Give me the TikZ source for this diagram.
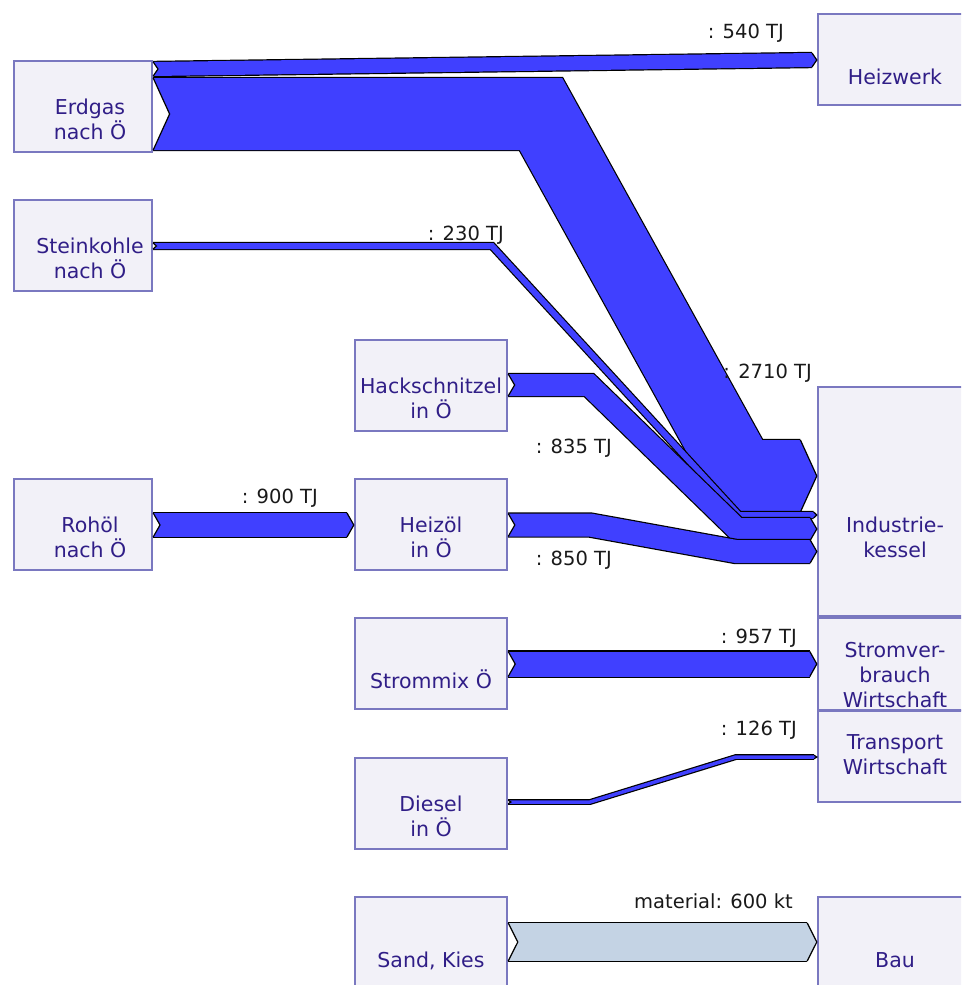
\documentclass[tikz,border=0pt]{standalone}
\usepackage{fontspec}
\setmainfont{DejaVu Sans}
\usetikzlibrary{calc}
\definecolor{boxfill}{RGB}{242,241,248}
\definecolor{boxline}{RGB}{122,120,192}
\definecolor{txtcol}{RGB}{48,30,135}
\definecolor{flowblue}{RGB}{64,64,255}
\definecolor{sandblue}{RGB}{196,211,228}
% band: [colour]{width}{start}{corners}{end}
\newcommand{\flowband}[5][flowblue]{%
	\pgfmathsetmacro{\halfw}{#2/2}%
	\pgfmathsetmacro{\tipd}{0.2*#2+2}%
	\coordinate (fs) at (#3);
	\coordinate (fe) at ($(#5)+(-\tipd,0)$);
	\draw[line width=#2+2.4] (fs) #4 -- (fe);
	\draw[line width=#2, #1] (fs) #4 -- (fe);
	\filldraw[fill=white, line width=1.2] ($(fs)+(0,-\halfw)$) -- ++(\tipd,\halfw) -- ++(-\tipd,\halfw);
	\fill[#1] ($(fe)+(-0.8,-\halfw)$) -- ++(0.8,0) -- ++(\tipd,\halfw) -- ++(-\tipd,\halfw) -- ++(-0.8,0) -- cycle;
	\draw[line width=1.2] ($(fe)+(0,-\halfw)$) -- ++(\tipd,\halfw) -- ++(-\tipd,\halfw);
}
\begin{document}
\begin{tikzpicture}[x=1pt, y=-1pt, line join=miter,
	lbox/.style={draw=boxline, fill=boxfill, line width=2.4, inner sep=0, minimum width=138, minimum height=91},
	mbox/.style={lbox, minimum width=152},
	rbox/.style={lbox, minimum width=154},
	txt/.style={font=\fontsize{20.5}{25}\selectfont, text=txtcol, align=center, anchor=base, inner sep=0},
	lbl/.style={font=\fontsize{19.5}{23}\selectfont, text=black!90, anchor=base east, inner sep=0}]
	\useasboundingbox (0,0) rectangle (961,985);
	\clip (0,0) rectangle (961,985);
	% sources
	\node[lbox] (erdgas) at (83,106.5) {};
	\node[txt] (erdgas-t) at ($(erdgas.north)+(7,80)$) {Erdgas\\nach Ö};
	\node[lbox] (steinkohle) at (83,245.5) {};
	\node[txt] (steinkohle-t) at ($(steinkohle.north)+(7,80)$) {Steinkohle\\nach Ö};
	\node[lbox] (rohoel) at (83,524.5) {};
	\node[txt] (rohoel-t) at ($(rohoel.north)+(7,80)$) {Rohöl\\nach Ö};
	\node[mbox] (hack) at (431,385.5) {};
	\node[txt] (hack-t) at ($(hack.north)+(0,80)$) {Hackschnitzel\\in Ö};
	\node[mbox] (heizoel) at (431,524.5) {};
	\node[txt] (heizoel-t) at ($(heizoel.north)+(0,80)$) {Heizöl\\in Ö};
	\node[mbox] (strommix) at (431,663.5) {};
	\node[txt] (strommix-t) at ($(strommix.north)+(0,72)$) {Strommix Ö};
	\node[mbox] (diesel) at (431,803.5) {};
	\node[txt] (diesel-t) at ($(diesel.north)+(0,80)$) {Diesel\\in Ö};
	\node[mbox] (sand) at (431,942.5) {};
	\node[txt] (sand-t) at ($(sand.north)+(0,72)$) {Sand, Kies};
	% sinks
	\node[rbox] (heizwerk) at (895,59.5) {};
	\node[txt] (heizwerk-t) at ($(heizwerk.north)+(0,72)$) {Heizwerk};
	\node[rbox, minimum height=229] (kessel) at (895,501.5) {};
	\node[txt] (kessel-t) at ($(kessel.north)+(0,172)$) {Industrie-\\kessel};
	\node[rbox, minimum height=92] (strom) at (895,664) {};
	\node[txt] (strom-t) at ($(strom.north)+(0,91)$) {Stromver-\\brauch\\Wirtschaft};
	\node[rbox] (transport) at (895,756.5) {};
	\node[txt] (transport-t) at ($(transport.north)+(0,65)$) {Transport\\Wirtschaft};
	\node[rbox] (bau) at (895,942.5) {};
	\node[txt] (bau-t) at ($(bau.north)+(0,72)$) {Bau};
	% flows
	\flowband{14}{erdgas.east |- 0,69}{}{heizwerk.west |- 0,60}
	\flowband{72}{erdgas.east |- 0,114}{-- (541,114) -- (741,476)}{kessel.west |- 0,476}
	\flowband{6}{steinkohle.east |- 0,246}{-- (492,246) -- (739,515)}{kessel.west |- 0,515}
	\flowband{22}{hack.east |- 0,385}{-- (589,385) -- (737,529)}{kessel.west |- 0,529}
	\flowband{23}{heizoel.east |- 0,525}{-- (590,525) -- (736,551.5)}{kessel.west |- 0,551.5}
	\flowband{24}{rohoel.east |- 0,525}{}{heizoel.west |- 0,525}
	\flowband{25}{strommix.east |- 0,664}{}{strom.west |- 0,664}
	\flowband{3.5}{diesel.east |- 0,802}{-- (590,802) -- (736,757)}{transport.west |- 0,757}
	\flowband[sandblue]{38}{sand.east |- 0,942}{}{bau.west |- 0,942}
	% values
	\node[lbl] (v540) at (784,38) {: 540 TJ};
	\node[lbl] (v230) at (504,240) {: 230 TJ};
	\node[lbl] (v2710) at (812,378) {: 2710 TJ};
	\node[lbl] (v835) at (612,453) {: 835 TJ};
	\node[lbl] (v850) at (612,565) {: 850 TJ};
	\node[lbl] (v900) at (318,503) {: 900 TJ};
	\node[lbl] (v957) at (797,643) {: 957 TJ};
	\node[lbl] (v126) at (797,735) {: 126 TJ};
	\node[lbl] (v600) at (793,908) {material: 600 kt};
\end{tikzpicture}
\end{document}
